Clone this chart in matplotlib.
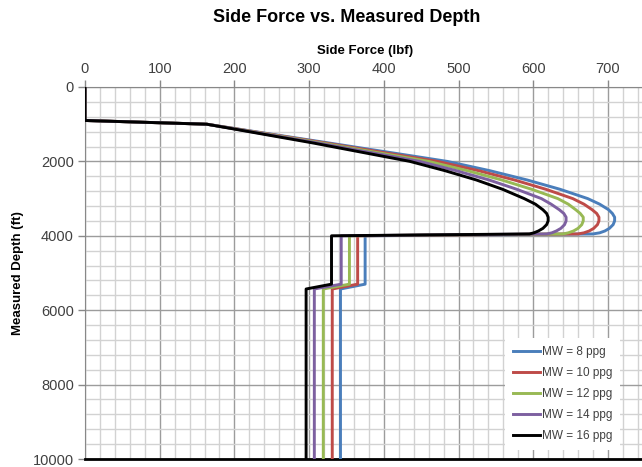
import matplotlib
matplotlib.use("Agg")
import matplotlib.pyplot as plt
from matplotlib.ticker import MultipleLocator

plt.rcParams["font.family"] = ["Liberation Sans", "DejaVu Sans"]

# measured depth (ft) shared by every curve
depth = [0, 900, 1000, 1500, 2000, 2250, 2500, 2750, 3000, 3150, 3300,
         3400, 3500, 3600, 3700, 3800, 3870, 3920, 3950,
         4000, 5300, 5430, 10000]

# side force (lbf) for each mud weight
force_mw8 = [0, 0, 163, 325, 485, 542, 592, 636, 673, 689, 701,
             706, 709, 709, 707, 702, 696, 689, 680,
             375, 375, 342, 342]
force_mw10 = [0, 0, 163, 320, 472, 527, 575, 617, 653, 668, 679,
              685, 688, 688, 686, 681, 675, 668, 660,
              365, 365, 331, 331]
force_mw12 = [0, 0, 163, 315, 460, 512, 558, 598, 633, 647, 657,
              663, 667, 667, 665, 660, 654, 647, 640,
              354, 354, 319, 319]
force_mw14 = [0, 0, 163, 310, 448, 497, 541, 578, 611, 624, 635,
              641, 644, 644, 642, 637, 631, 625, 618,
              343, 343, 307, 307]
force_mw16 = [0, 0, 163, 304, 435, 482, 524, 559, 588, 603, 613,
              618, 620, 620, 618, 613, 607, 601, 595,
              330, 330, 296, 296]

series = [
    ("MW = 8 ppg", force_mw8, "#4a7ebb"),
    ("MW = 10 ppg", force_mw10, "#be4b48"),
    ("MW = 12 ppg", force_mw12, "#98b954"),
    ("MW = 14 ppg", force_mw14, "#7d60a0"),
    ("MW = 16 ppg", force_mw16, "#000000"),
]

W, H = 642, 467
xmax = 750
fig = plt.figure(figsize=(W / 100, H / 100), dpi=100)
x0, x1, y0, y1 = 85, 85 + xmax * 0.747, 87, 459
ax = fig.add_axes([x0 / W, 1 - y1 / H, (x1 - x0) / W, (y1 - y0) / H])

for label, f, color in series:
    ax.plot(f, depth, color=color, lw=2.1, label=label, zorder=3,
            solid_joinstyle="round")

ax.set_xlim(0, xmax)
ax.set_ylim(10000, 0)
ax.xaxis.set_major_locator(MultipleLocator(100))
ax.xaxis.set_minor_locator(MultipleLocator(20))
ax.yaxis.set_major_locator(MultipleLocator(2000))
ax.yaxis.set_minor_locator(MultipleLocator(400))
ax.grid(which="major", color="#9c9c9c", lw=1.0, zorder=0)
ax.grid(which="minor", color="#d2d2d2", lw=1.0, zorder=0)
ax.set_axisbelow(True)

ax.xaxis.tick_top()
ax.xaxis.set_label_position("top")
ax.tick_params(which="major", direction="out", length=5, width=1,
               color="#888888", labelsize=10.5, labelcolor="#404040", pad=3)
ax.tick_params(which="minor", length=0)
for s in ("left", "top"):
    ax.spines[s].set_color("#888888")
ax.spines["right"].set_visible(False)
ax.spines["bottom"].set_color("black")
ax.spines["bottom"].set_linewidth(2)

ax.set_xlabel("Side Force (lbf)", fontsize=9.5, fontweight="bold")
ax.xaxis.set_label_coords((365 - x0) / (x1 - x0), 1 + (y0 - 54) / (y1 - y0))
ax.set_ylabel("Measured Depth (ft)", fontsize=9.5, fontweight="bold",
              labelpad=6)
fig.text(347 / W, 1 - 17 / H, "Side Force vs. Measured Depth",
         fontsize=13, fontweight="bold", ha="center", va="center")

leg = ax.legend(loc="upper left",
                bbox_to_anchor=((505 - x0) / (x1 - x0), (y1 - 338) / (y1 - y0)),
                fontsize=8.5, frameon=True, fancybox=False, framealpha=1,
                facecolor="white", edgecolor="none", handlelength=2.3,
                handletextpad=0.1, labelspacing=0.76, borderpad=0.7,
                borderaxespad=0)
for t in leg.get_texts():
    t.set_color("#404040")

fig.savefig("out.png", dpi=100)
